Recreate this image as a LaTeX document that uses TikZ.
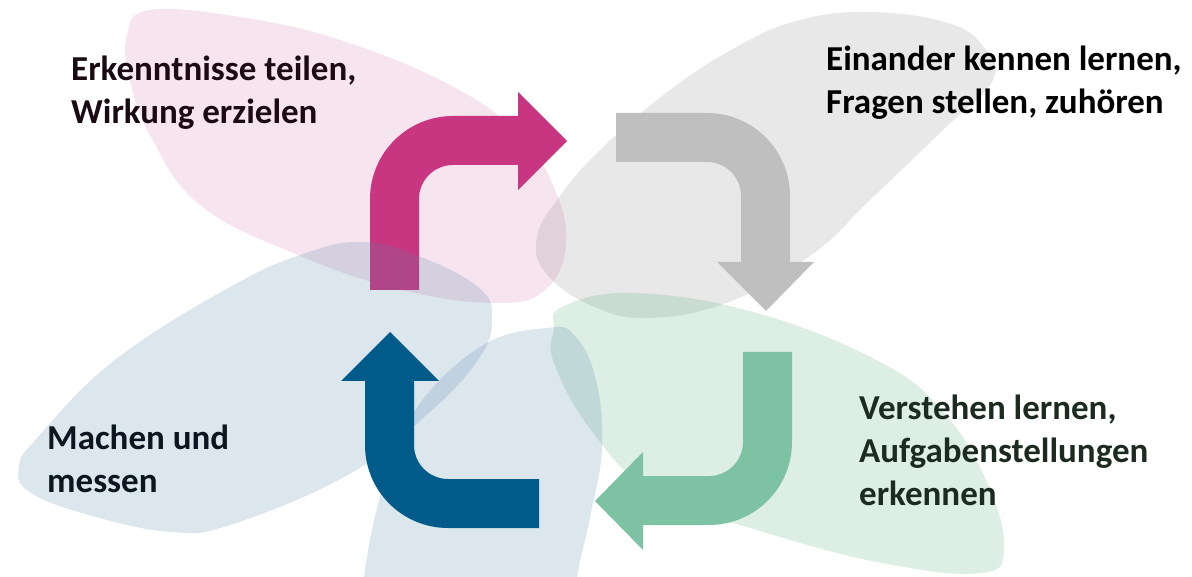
\documentclass[tikz,border=0pt]{standalone}
\usepackage{fontspec}
\setmainfont{Carlito}
\usepackage{tikz}

\definecolor{pinkarrow}{RGB}{200,54,129}
\definecolor{grayarrow}{RGB}{191,191,191}
\definecolor{bluearrow}{RGB}{0,90,138}
\definecolor{greenarrow}{RGB}{125,195,163}
\definecolor{pinkleaf}{RGB}{210,120,170}
\definecolor{grayleaf}{RGB}{140,140,140}
\definecolor{blueleaf}{RGB}{80,130,165}
\definecolor{greenleaf}{RGB}{85,170,125}
\definecolor{pinktext}{RGB}{26,10,18}
\definecolor{greentext}{RGB}{28,43,32}
\definecolor{bluetext}{RGB}{10,22,32}

\begin{document}
\begin{tikzpicture}[x=1pt,y=-1pt,
    leaf/.style={opacity=0.2},
    lbl/.style={anchor=base west,align=left,inner sep=0pt,font=\fontsize{35}{42.7}\selectfont\bfseries}]
  \useasboundingbox (0,0) rectangle (1192,577);
  \clip (0,0) rectangle (1192,577);
  % leaves behind the arrows
  \fill[pinkleaf,leaf] plot[smooth cycle,tension=0.7] coordinates {(150,10) (127,35) (130,80)
    (150,135) (200,205) (298,255) (402,290) (497,303) (545,290) (566,245) (555,190)
    (520,135) (450,85) (340,40) (240,17)};
  \fill[grayleaf,leaf] plot[smooth cycle,tension=0.7] coordinates {(868,12) (945,22) (982,45)
    (993,80) (943,130) (870,200) (814,253) (734,300) (650,318) (590,305) (545,272)
    (537,237) (557,200) (600,150) (670,90) (740,45) (800,20)};
  \fill[greenleaf,leaf] plot[smooth cycle,tension=0.7] coordinates {(562,307) (633,293)
    (757,313) (882,363) (944,413) (986,480) (1004,547) (981,573) (882,563) (757,530)
    (654,493) (591,430) (554,363) (554,330)};
  \fill[pinkarrow] (370,290) -- (370,199) arc[start angle=180,end angle=270,radius=83]
    -- (518,116) -- (518,92) -- (567,141) -- (518,190) -- (518,165)
    -- (453,165) arc[start angle=270,end angle=180,radius=34] -- (419,290) -- cycle;
  \fill[grayarrow] (616,113) -- (707,113) arc[start angle=270,end angle=360,radius=83]
    -- (790,262) -- (814,262) -- (766,311) -- (717,262) -- (741,262)
    -- (741,196) arc[start angle=0,end angle=-90,radius=34] -- (616,162) -- cycle;
  \fill[greenarrow] (792,352) -- (792,442) arc[start angle=0,end angle=90,radius=83]
    -- (643,525) -- (643,550) -- (595,501) -- (643,452) -- (643,476)
    -- (709,476) arc[start angle=90,end angle=0,radius=34] -- (743,352) -- cycle;
  % blue leaves over the pink stem
  \fill[blueleaf,leaf] plot[smooth cycle,tension=0.7] coordinates {(364,242) (421,257)
    (478,287) (492,317) (478,360) (421,420) (344,477) (230,525) (172,532) (96,517)
    (31,493) (19,467) (38,437) (115,360) (230,287) (306,253)};
  \fill[blueleaf,leaf] plot[smooth cycle,tension=0.7] coordinates {(547,328) (575,336)
    (596,380) (602,447) (591,513) (577,577) (570,640) (360,640) (364,577) (382,490)
    (413,413) (480,347)};
  \fill[bluearrow] (539,528) -- (448,528) arc[start angle=90,end angle=180,radius=83]
    -- (365,381) -- (341,381) -- (390,332) -- (439,381) -- (414,381)
    -- (414,445) arc[start angle=180,end angle=90,radius=34] -- (539,479) -- cycle;
  % texts, placed by the baseline of their last line
  \node[lbl,text=pinktext] (share) at (71,123.3) {Erkenntnisse teilen,\\Wirkung erzielen};
  \node[lbl,text=black] (meet) at (826,113.3) {Einander kennen lernen,\\Fragen stellen, zuhören};
  \node[lbl,text=greentext] (understand) at (859,505) {Verstehen lernen,\\Aufgabenstellungen\\erkennen};
  \node[lbl,text=bluetext] (make) at (47,492) {Machen und\\messen};
\end{tikzpicture}
\end{document}
